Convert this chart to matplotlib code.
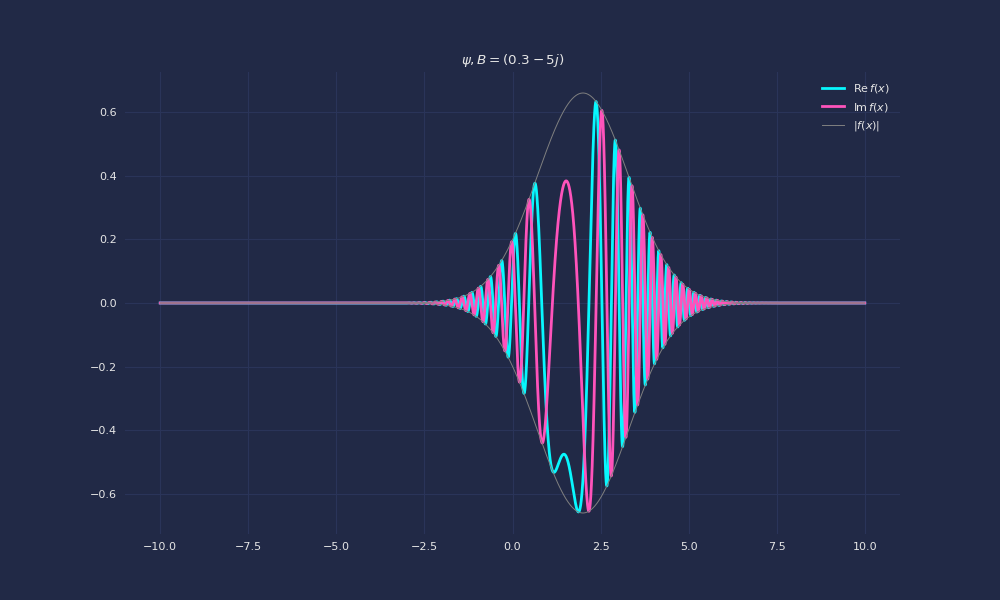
import numpy as np
import matplotlib.pyplot as plt

# wave packet parameters (B shown in the title)
B = 0.3 - 5j
x0 = 2.0
k0 = 5.0
x_range = [-10, 10]
n_pts = 20000

x = np.linspace(x_range[0], x_range[1], n_pts)
norm = (2 * B.real / np.pi) ** 0.25
f = norm * np.exp(-B * (x - x0) ** 2 + 1j * k0 * x)

bg = '#212946'
plt.rcParams.update({
    'figure.facecolor': bg,
    'axes.facecolor': bg,
    'savefig.facecolor': bg,
    'text.color': '0.9',
    'axes.labelcolor': '0.9',
    'xtick.color': '0.9',
    'ytick.color': '0.9',
    'grid.color': '#2A3459',
    'font.size': 8,
})

fig, ax = plt.subplots(figsize=(10, 6), dpi=100)
ax.plot(x, f.real, color='#08F7FE', lw=2, label=r'$\mathrm{Re}\, f(x)$')
ax.plot(x, f.imag, color='#FE53BB', lw=2, label=r'$\mathrm{Im}\, f(x)$')
ax.plot(x, np.abs(f), color='gray', lw=0.7, label=r'$|f(x)|$')
ax.plot(x, -np.abs(f), color='gray', lw=0.7)

ax.set_title(r'$\psi, B = (0.3 - 5j)$', fontsize=9.7)
ax.grid(True)
ax.set_axisbelow(True)
for s in ax.spines.values():
    s.set_visible(False)
ax.tick_params(length=0, pad=6)
ax.legend(frameon=False, fontsize=8)

fig.savefig('out.png', dpi=100)
